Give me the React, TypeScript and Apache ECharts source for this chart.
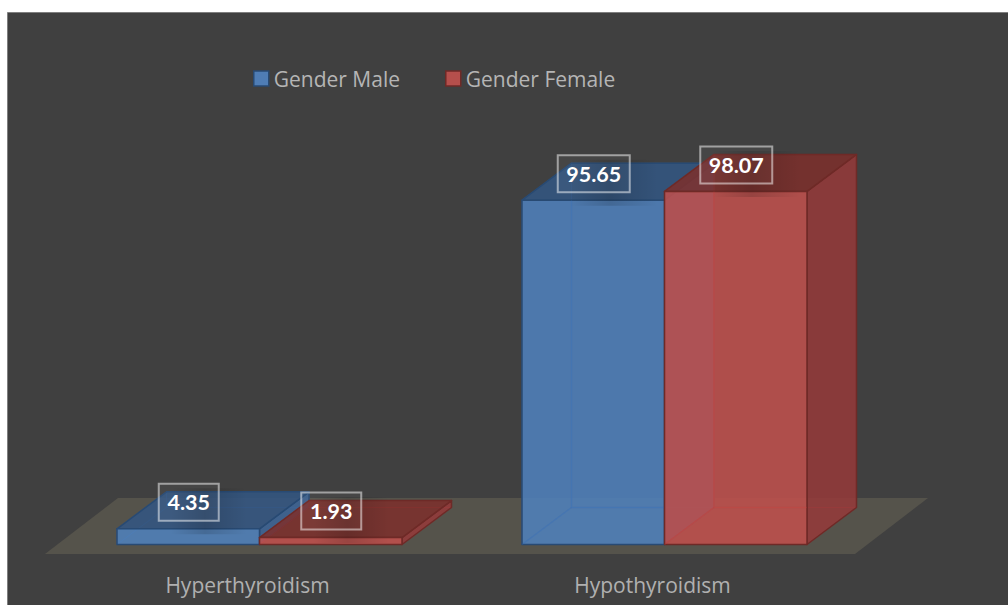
import React, { useEffect, useRef } from "react";
import * as echarts from "echarts";

const categories = ["Hyperthyroidism", "Hypothyroidism"];
const maleValues = [4.35, 95.65];
const femaleValues = [1.93, 98.07];
const seriesNames = ["Gender Male", "Gender Female"];

const FONT = '"Open Sans", sans-serif';
const LABEL_FONT = 'Lato, "Open Sans", sans-serif';
const DX = 49.5;
const DY = -37;
const BAR_RATIO = 142.5 / 405;
const SHIFT = 12;

const BLUE = {
  front: "rgba(79,129,189,0.86)",
  hidden: "rgba(79,129,189,0.05)",
  top: "rgba(50,86,131,0.85)",
  side: "rgba(60,100,150,0.85)",
  line: "#284a73",
  inner: "rgba(60,105,165,0.4)",
  overlay: "rgba(52,104,172,0.3)",
};
const RED = {
  front: "rgba(192,80,77,0.86)",
  hidden: "rgba(192,80,77,0.05)",
  top: "rgba(125,47,44,0.85)",
  side: "rgba(149,58,57,0.85)",
  line: "#6e2a27",
  inner: "rgba(185,65,62,0.4)",
  overlay: "rgba(186,62,58,0.3)",
};

function poly(points: number[][], fill: string, stroke: string, lineWidth = 1.5) {
  return { type: "polygon", shape: { points }, style: { fill, stroke, lineWidth, lineJoin: "round" } };
}

function renderBox(dir: number, pal: typeof BLUE) {
  return (_params: any, api: any) => {
    const cat = api.value(0);
    const val = api.value(1);
    const top = api.coord([cat, val]);
    const base = api.coord([cat, 0]);
    const band = api.size([1, 0])[0];
    const w = band * BAR_RATIO;
    const x0 = top[0] + SHIFT + (dir < 0 ? -w : 0);
    const x1 = x0 + w;
    const yT = top[1];
    const yB = base[1];
    const children: any[] = [
      poly([[x0 + DX, yT + DY], [x1 + DX, yT + DY], [x1 + DX, yB + DY], [x0 + DX, yB + DY]], pal.hidden, pal.inner, 1),
      poly([[x0, yT], [x0 + DX, yT + DY], [x0 + DX, yB + DY], [x0, yB]], pal.hidden, pal.inner, 1),
      poly([[x0, yB], [x1, yB], [x1 + DX, yB + DY], [x0 + DX, yB + DY]], pal.hidden, pal.inner, 1),
      poly([[x1, yT], [x1 + DX, yT + DY], [x1 + DX, yB + DY], [x1, yB]], pal.side, pal.line),
      poly([[x0, yT], [x1, yT], [x1 + DX, yT + DY], [x0 + DX, yT + DY]], pal.top, pal.line),
      poly([[x0, yT], [x1, yT], [x1, yB], [x0, yB]], pal.front, pal.line),
    ];
    if (yB - yT > -DY) {
      children.push({
        type: "polyline",
        shape: { points: [[x0 + DX, yT], [x0 + DX, yB + DY], [x1, yB + DY]] },
        style: { fill: "none", stroke: pal.overlay, lineWidth: 1.5 },
      });
      children.push({
        type: "line",
        shape: { x1: x0, y1: yB, x2: x0 + DX, y2: yB + DY },
        style: { stroke: pal.overlay, lineWidth: 1.5 },
      });
    }
    return { type: "group", children };
  };
}

function renderLabel(dir: number, boxW: (v: number) => number) {
  return (_params: any, api: any) => {
    const cat = api.value(0);
    const val = api.value(1);
    const top = api.coord([cat, val]);
    const band = api.size([1, 0])[0];
    const w = band * BAR_RATIO;
    const cx = top[0] + SHIFT + (dir < 0 ? -w / 2 : w / 2) + 0.5;
    const cy = top[1] - 26.5;
    const bw = boxW(val);
    return {
      type: "group",
      children: [
        {
          type: "rect",
          shape: { x: cx - bw / 2 + 12, y: cy - 14, width: bw + 16, height: 46 },
          style: {
            fill: new echarts.graphic.LinearGradient(0, 0, 1, 0, [
              { offset: 0, color: "rgba(0,0,0,0)" },
              { offset: 0.45, color: "rgba(0,0,0,0.14)" },
              { offset: 1, color: "rgba(0,0,0,0)" },
            ]),
          },
        },
        {
          type: "rect",
          shape: { x: cx - bw / 2, y: cy - 18.5, width: bw, height: 37 },
          style: { fill: "rgba(255,255,255,0.03)", stroke: "rgba(255,255,255,0.5)", lineWidth: 2 },
        },
        {
          type: "text",
          style: {
            x: cx,
            y: cy,
            text: val.toFixed(2),
            fill: "#ffffff",
            font: `bold 21.5px ${LABEL_FONT}`,
            align: "center",
            verticalAlign: "middle",
          },
        },
      ],
    };
  };
}

function renderFloor(params: any) {
  const cs = params.coordSys;
  const x = cs.x;
  const y = cs.y + cs.height + 9.5;
  const r = x + cs.width;
  return {
    type: "polygon",
    shape: { points: [[x, y], [r, y], [r + 73, y - 56], [x + 73, y - 56]] },
    style: { fill: "#55534b" },
  };
}

const toData = (values: number[]) => values.map((v, i) => [i, v]);

export default function App() {
  const ref = useRef<HTMLDivElement>(null);
  useEffect(() => {
    const chart = echarts.init(ref.current!, undefined, { renderer: "svg" });
    const labelW = (v: number) => (v >= 10 ? 72 : 60);
    chart.setOption({
      animation: false,
      backgroundColor: "#ffffff",
      graphic: [
        {
          type: "rect",
          z: -10,
          shape: { x: 7.5, y: 12.5, width: 1010, height: 600 },
          style: { fill: "#404040", stroke: "#7f7f7f", lineWidth: 1 },
        },
      ],
      legend: {
        left: 253,
        top: 68,
        padding: 0,
        itemWidth: 15,
        itemHeight: 15,
        itemGap: 45,
        icon: "rect",
        textStyle: { color: "#b5b5b5", fontSize: 21, fontFamily: FONT },
        data: [
          { name: seriesNames[0], itemStyle: { color: "#4f7db5", borderColor: "#284a73", borderWidth: 1.5 } },
          { name: seriesNames[1], itemStyle: { color: "#b54f4c", borderColor: "#6e2a27", borderWidth: 1.5 } },
        ],
      },
      grid: { left: 45, top: 184.5, width: 810, height: 360 },
      xAxis: {
        type: "category",
        data: categories,
        axisLine: { show: false },
        axisTick: { show: false },
        axisLabel: { color: "#b0b0b0", fontSize: 21, fontFamily: FONT, margin: 30 },
      },
      yAxis: { type: "value", min: 0, max: 100, show: false },
      series: [
        { type: "custom", name: "floor", silent: true, clip: false, data: [[0, 0]], renderItem: renderFloor },
        { type: "custom", name: seriesNames[0], clip: false, data: toData(maleValues), encode: { x: 0, y: 1 }, renderItem: renderBox(-1, BLUE) },
        { type: "custom", name: seriesNames[1], clip: false, data: toData(femaleValues), encode: { x: 0, y: 1 }, renderItem: renderBox(1, RED) },
        { type: "custom", name: "male labels", silent: true, clip: false, data: toData(maleValues), encode: { x: 0, y: 1 }, renderItem: renderLabel(-1, labelW) },
        { type: "custom", name: "female labels", silent: true, clip: false, data: toData(femaleValues), encode: { x: 0, y: 1 }, renderItem: renderLabel(1, labelW) },
      ],
    });
    return () => chart.dispose();
  }, []);
  return <div ref={ref} style={{ position: "absolute", left: 0, top: 0, width: 1008, height: 605 }} />;
}
